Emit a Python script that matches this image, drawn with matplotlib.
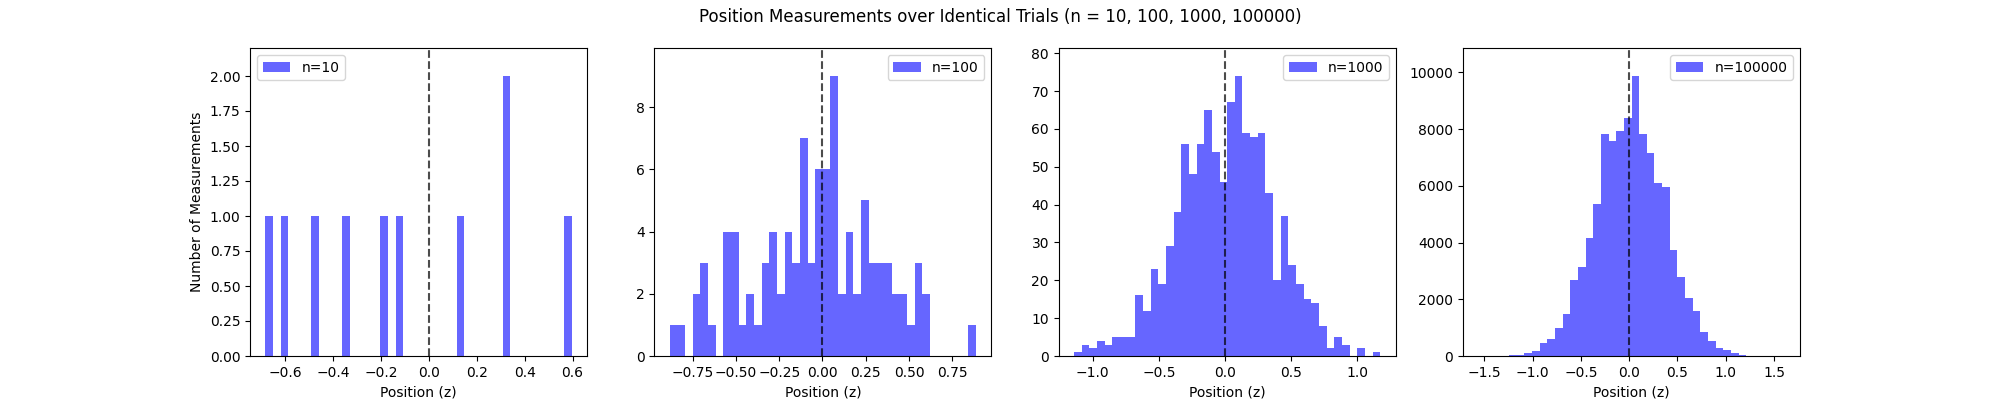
import numpy as np
import matplotlib
matplotlib.use('Agg')
import matplotlib.pyplot as plt

# sample sizes and the range of each histogram (40 bins between min and max)
n_values = [10, 100, 1000, 100000]
x_min = [-0.683, -0.883, -1.141, -1.562]
x_max = [0.596, 0.887, 1.174, 1.610]

# bin counts
counts_10 = [1, 0, 1, 0, 0, 0, 1, 0, 0, 0,
             1, 0, 0, 0, 0, 1, 0, 1, 0, 0,
             0, 0, 0, 0, 0, 1, 0, 0, 0, 0,
             0, 2, 0, 0, 0, 0, 0, 0, 0, 1]
counts_100 = [1, 1, 0, 2, 3, 1, 0, 4, 4, 1,
              2, 1, 3, 4, 2, 4, 3, 7, 3, 6,
              6, 9, 2, 4, 2, 5, 3, 3, 3, 2,
              2, 1, 3, 2, 0, 0, 0, 0, 0, 1]
counts_1000 = [1, 3, 2, 4, 3, 5, 5, 5, 16, 12,
               23, 19, 29, 38, 56, 48, 56, 65, 54, 46,
               67, 74, 59, 58, 59, 43, 20, 37, 24, 19,
               15, 14, 8, 2, 5, 3, 0, 2, 0, 1]
counts_100000 = [1, 1, 3, 10, 40, 45, 100, 180, 460, 600,
                 990, 1480, 2680, 3140, 4160, 5360, 7830, 7580, 7940, 8390,
                 9870, 7830, 7160, 6100, 5970, 3740, 2790, 2060, 1590, 850,
                 540, 290, 210, 90, 45, 15, 6, 2, 1, 1]

all_counts = [counts_10, counts_100, counts_1000, counts_100000]
legend_loc = ['upper left', 'upper right', 'upper right', 'upper right']

fig, axes = plt.subplots(1, 4, figsize=(20, 4))

for i, ax in enumerate(axes):
    edges = np.linspace(x_min[i], x_max[i], 41)
    ax.hist(edges[:-1], bins=edges, weights=all_counts[i],
            color='blue', alpha=0.6, label=f'n={n_values[i]}')
    ax.axvline(0, color='black', linestyle='--', alpha=0.7)
    ax.set_ylim(0, max(all_counts[i]) * 1.1)
    ax.set_xlabel('Position (z)')
    ax.legend(loc=legend_loc[i])

axes[0].set_ylabel('Number of Measurements')
fig.suptitle('Position Measurements over Identical Trials (n = 10, 100, 1000, 100000)')

plt.savefig('out.png', dpi=100)
